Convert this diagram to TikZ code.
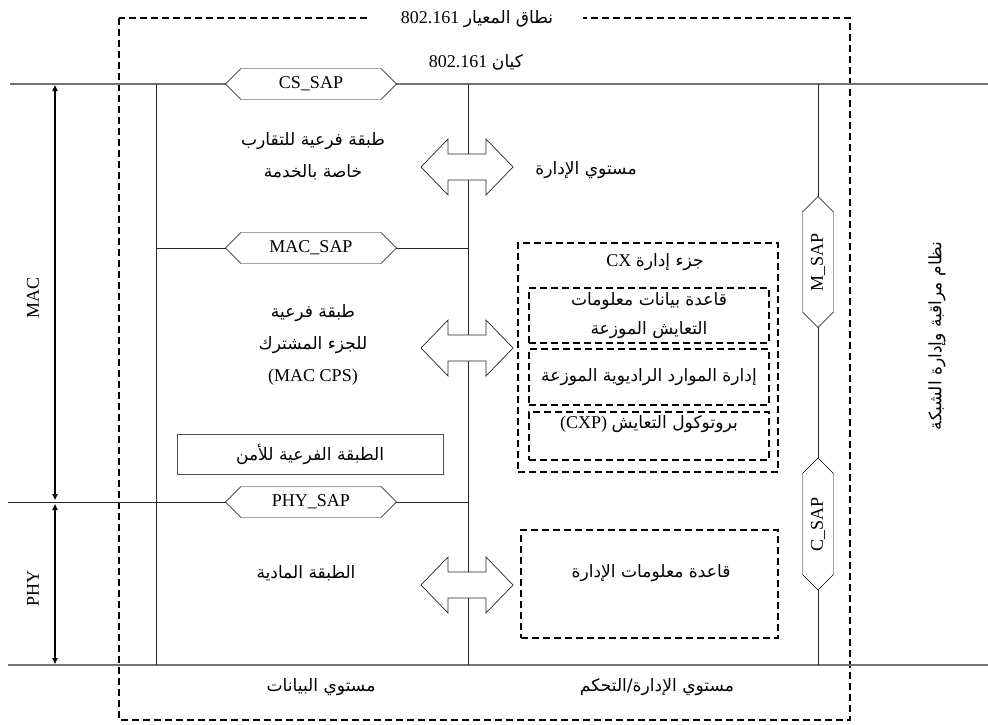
\documentclass[tikz,border=0pt]{standalone}
\usepackage{fontspec}
\setmainfont{Liberation Serif}
\newfontfamily\arabicfont[Script=Arabic,Scale=0.95]{DejaVu Sans}
\TeXXeTstate=1
\usetikzlibrary{shapes.symbols,arrows.meta}
\newcommand\artxt[1]{{\arabicfont\beginR #1\endR}}
\tikzset{
   sap/.style={signal,signal to=west and east,draw,fill=white,minimum height=31pt,inner sep=0pt},
   dbox/.style={draw,line width=1.4pt,dash pattern=on 7pt off 4pt},
   layer/.style={draw=black!55,line width=1.3pt},
   wire/.style={draw=black!85,line width=0.7pt},
   span/.style={{Triangle[length=6pt,width=5pt]}-{Triangle[length=6pt,width=5pt]},line width=1.5pt},
   dblarr/.pic={\draw[black!85,line width=0.7pt,fill=white] (-46,0) -- (-19,-28) -- (-19,-13) -- (19,-13) -- (19,-28) -- (46,0)
      -- (19,28) -- (19,13) -- (-19,13) -- (-19,28) -- cycle;}
}
\begin{document}
\begin{tikzpicture}[x=1pt,y=-1pt,font=\fontsize{18}{32}\selectfont]
   \useasboundingbox (0,0) rectangle (988,725);
   \draw[dbox] (119,18) rectangle (850,720);
   \node[fill=white,inner xsep=30pt] (stdscope) at (477,19) {802.161 \artxt{نطاق المعيار}};
   \node (entity) at (476,62) {802.161 \artxt{كيان}};

   \coordinate (topL) at (10,84);     \coordinate (topR) at (988,84);
   \coordinate (botL) at (8,665);     \coordinate (botR) at (988,665);
   \coordinate (leftT) at (156,84);   \coordinate (leftB) at (156,665);
   \coordinate (midT) at (468,84);    \coordinate (midB) at (468,665);
   \coordinate (rightT) at (818,84);  \coordinate (rightB) at (818,665);
   \coordinate (macL) at (156,248);   \coordinate (macR) at (468,248);
   \coordinate (phyL) at (8,502);     \coordinate (phyR) at (468,502);
   \draw[layer] (topL) -- (topR);
   \draw[layer] (botL) -- (botR);
   \draw[wire] (leftT) -- (leftB);
   \draw[wire] (midT) -- (midB);
   \draw[wire] (rightT) -- (rightB);
   \draw[wire] (macL) -- (macR);
   \draw[wire] (phyL) -- (phyR);

   \node[sap,minimum width=171pt] (cssap) at (311,84) {CS\_SAP};
   \node[sap,minimum width=171pt] (macsap) at (311,248) {MAC\_SAP};
   \node[sap,minimum width=171pt] (physap) at (311,502) {PHY\_SAP};
   \node[sap,rotate=90,minimum width=131pt] (msap) at (818,262) {M\_SAP};
   \node[sap,rotate=90,minimum width=132pt] (csap) at (818,524) {C\_SAP};

   \pic (arrA) at (467,167) {dblarr};
   \pic (arrB) at (467,348) {dblarr};
   \pic (arrC) at (467,585) {dblarr};

   \coordinate (macTop) at (55,85);   \coordinate (macBot) at (55,500);
   \coordinate (phyTop) at (55,504);  \coordinate (phyBot) at (55,664);
   \draw[span] (macTop) -- (macBot);
   \draw[span] (phyTop) -- (phyBot);
   \node[rotate=90] (maclbl) at (33,298) {MAC};
   \node[rotate=90] (phylbl) at (33,588) {PHY};

   \node[align=center] (cssub) at (313,156) {\artxt{طبقة فرعية للتقارب}\\\artxt{خاصة بالخدمة}};
   \node (mgmt) at (586,170) {\artxt{مستوي الإدارة}};
   \node[align=center] (cps) at (313,345) {\artxt{طبقة فرعية}\\\artxt{للجزء المشترك}\\(MAC CPS)};
   \node[draw=black!70,line width=0.7pt,minimum width=266pt,minimum height=40pt] (secsub) at (310,454) {\artxt{الطبقة الفرعية للأمن}};
   \node (physub) at (306,573) {\artxt{الطبقة المادية}};

   \node[dbox,minimum width=260pt,minimum height=229pt] (cxbox) at (648,357.5) {};
   \node (cxtitle) at (655,262) {CX \artxt{جزء إدارة}};
   \node[dbox,minimum width=240pt,minimum height=55pt,align=center,font=\fontsize{18}{29}\selectfont] (cdis) at (649,315.5) {\artxt{قاعدة بيانات معلومات}\\\artxt{التعايش الموزعة}};
   \node[dbox,minimum width=240pt,minimum height=56pt] (drrm) at (649,377) {\artxt{إدارة الموارد الراديوية الموزعة}};
   \node[dbox,minimum width=240pt,minimum height=48pt] (cxp) at (649,436) {};
   \node (cxptxt) at (649,424) {(CXP) \artxt{بروتوكول التعايش}};
   \node[dbox,minimum width=257pt,minimum height=108pt] (mib) at (649.5,584) {};
   \node (mibtxt) at (651,573) {\artxt{قاعدة معلومات الإدارة}};

   \node[rotate=90] (nms) at (937,336) {\artxt{نظام مراقبة وإدارة الشبكة}};
   \node (dataplane) at (321,687) {\artxt{مستوي البيانات}};
   \node (ctrlplane) at (657,687) {\artxt{مستوي الإدارة/التحكم}};
\end{tikzpicture}
\end{document}
